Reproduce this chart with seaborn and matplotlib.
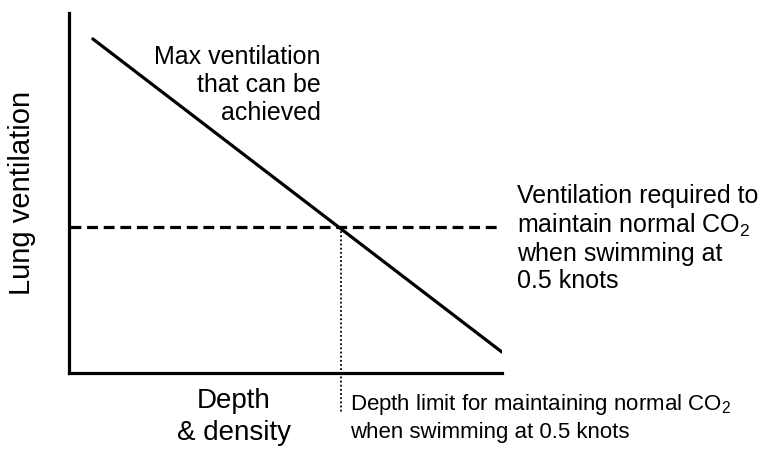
import matplotlib
matplotlib.use("Agg")
import matplotlib.pyplot as plt
import seaborn as sns
import pandas as pd

# ---- data (abstract units, axes span 0..10 on both axes) ----
depth = [0.55, 10.0]                 # start / end of the max-ventilation line
max_ventilation = [9.28, 0.58]
required_ventilation = 4.06          # dashed level
required_span = [0.02, 9.88]
depth_limit = 6.28                   # dotted vertical
depth_limit_bottom = -1.11

label_max = "Max ventilation\nthat can be\nachieved"
label_required = "Ventilation required to\nmaintain normal CO$_2$\nwhen swimming at\n0.5 knots"
label_limit = "Depth limit for maintaining normal CO$_2$\nwhen swimming at 0.5 knots"
xlabel = "Depth\n& density"
ylabel = "Lung ventilation"

sns.set_style("white")
plt.rcParams["font.family"] = ["Liberation Sans", "DejaVu Sans"]
plt.rcParams["text.color"] = "black"
plt.rcParams["mathtext.fontset"] = "custom"
plt.rcParams["mathtext.rm"] = "Liberation Sans"
plt.rcParams["mathtext.it"] = "Liberation Sans:italic"
plt.rcParams["mathtext.bf"] = "Liberation Sans:bold"

W, H = 763, 450
fig = plt.figure(figsize=(W / 100, H / 100), dpi=100)
L, R, T, B = 69, 502, 13, 373
ax = fig.add_axes([L / W, 1 - B / H, (R - L) / W, (B - T) / H])
ax.set_xlim(0, 10)
ax.set_ylim(0, 10)

df_max = pd.DataFrame({"depth": depth, "vent": max_ventilation})
sns.lineplot(data=df_max, x="depth", y="vent", ax=ax, color="black", lw=2.3)

df_req = pd.DataFrame({"depth": required_span,
                       "vent": [required_ventilation] * 2})
sns.lineplot(data=df_req, x="depth", y="vent", ax=ax, color="black", lw=2.3,
             dashes=False)
ax.lines[-1].set_dashes([3.4, 1.8])

ax.plot([depth_limit, depth_limit], [required_ventilation, depth_limit_bottom],
        color="black", lw=1.3, linestyle=(0, (1, 1.3)), clip_on=False)

for s in ["top", "right"]:
    ax.spines[s].set_visible(False)
for s in ["left", "bottom"]:
    ax.spines[s].set_linewidth(2.3)
    ax.spines[s].set_color("black")
ax.set_xticks([])
ax.set_yticks([])
ax.set_xlabel("")
ax.set_ylabel("")


def fx(px):
    return px / W


def fy(py):
    return 1 - py / H


fig.text(fx(321), fy(45), label_max, ha="right", va="top", fontsize=18,
         linespacing=1.2, multialignment="right", color="black")
fig.text(fx(517), fy(184), label_required, ha="left", va="top", fontsize=18,
         linespacing=1.17, color="black")
fig.text(fx(350), fy(392), label_limit, ha="left", va="top", fontsize=16,
         linespacing=1.3, color="black")
fig.text(fx(234), fy(388), xlabel, ha="center", va="top", fontsize=20,
         linespacing=1.3, color="black")
fig.text(fx(22), fy(193), ylabel, ha="center", va="center", rotation=90,
         fontsize=21, color="black")

fig.savefig("out.png", dpi=100)
